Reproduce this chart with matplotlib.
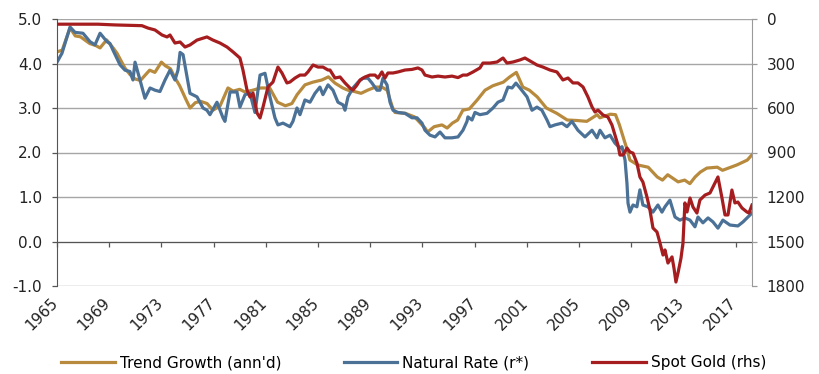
import numpy as np
import matplotlib
matplotlib.use("Agg")
import matplotlib.pyplot as plt
import matplotlib.transforms as mtransforms

# values (decimal years)
trend_years = [1965.00, 1965.40, 1966.00, 1966.40, 1966.80, 1967.50, 1968.00, 1968.30, 1968.80, 1969.30,
               1969.60, 1970.20, 1970.60, 1971.00, 1971.40, 1971.70, 1972.10, 1972.50, 1973.00, 1973.30,
               1973.70, 1974.00, 1974.40, 1974.90, 1975.20, 1975.60, 1976.00, 1976.50, 1976.95, 1977.50,
               1978.10, 1978.50, 1979.00, 1979.40, 1980.00, 1980.60, 1981.30, 1981.90, 1982.50, 1983.00,
               1983.40, 1984.00, 1984.60, 1985.30, 1985.80, 1986.30, 1986.90, 1987.30, 1987.80, 1988.30,
               1988.80, 1989.40, 1989.90, 1990.30, 1990.70, 1990.90, 1991.70, 1992.40, 1993.20, 1993.40,
               1993.90, 1994.50, 1994.90, 1995.30, 1995.70, 1996.10, 1996.60, 1997.20, 1997.80, 1998.40,
               1999.20, 1999.70, 2000.20, 2000.70, 2001.20, 2001.80, 2002.50, 2003.30, 2004.10, 2004.80,
               2005.60, 2006.40, 2006.60, 2007.40, 2007.80, 2008.10, 2008.50, 2008.70, 2008.90, 2009.50,
               2010.30, 2011.00, 2011.40, 2011.80, 2012.60, 2013.10, 2013.50, 2013.90, 2014.30, 2014.80,
               2015.60, 2016.00, 2017.10, 2017.90, 2018.26]
trend_growth = [4.26, 4.30, 4.80, 4.62, 4.60, 4.45, 4.40, 4.35, 4.53, 4.35,
                4.23, 3.90, 3.75, 3.65, 3.62, 3.72, 3.85, 3.80, 4.03, 3.95,
                3.88, 3.70, 3.50, 3.18, 3.00, 3.12, 3.15, 3.10, 2.95, 3.05,
                3.45, 3.38, 3.42, 3.36, 3.40, 3.45, 3.45, 3.13, 3.05, 3.10,
                3.30, 3.52, 3.58, 3.63, 3.70, 3.56, 3.45, 3.40, 3.37, 3.33,
                3.40, 3.47, 3.47, 3.40, 3.02, 2.90, 2.88, 2.80, 2.55, 2.46,
                2.58, 2.62, 2.55, 2.66, 2.73, 2.95, 2.98, 3.18, 3.40, 3.50,
                3.58, 3.70, 3.80, 3.47, 3.40, 3.25, 3.00, 2.88, 2.73, 2.72,
                2.70, 2.85, 2.78, 2.86, 2.85, 2.62, 2.24, 2.06, 1.83, 1.72,
                1.67, 1.45, 1.38, 1.50, 1.34, 1.38, 1.30, 1.45, 1.56, 1.65,
                1.67, 1.60, 1.72, 1.83, 1.95]

rstar_years = [1965.00, 1965.38, 1966.00, 1966.38, 1966.99, 1967.53, 1967.91, 1968.30, 1968.83, 1969.06,
               1969.29, 1969.83, 1970.21, 1970.59, 1970.82, 1970.98, 1971.36, 1971.74, 1972.13, 1972.51,
               1972.89, 1973.28, 1973.66, 1974.04, 1974.27, 1974.43, 1974.66, 1975.19, 1975.73, 1976.19,
               1976.49, 1976.72, 1977.26, 1977.72, 1977.87, 1978.26, 1978.79, 1979.02, 1979.41, 1979.79,
               1980.17, 1980.56, 1980.94, 1981.32, 1981.70, 1981.93, 1982.32, 1982.85, 1983.08, 1983.39,
               1983.62, 1984.00, 1984.39, 1984.77, 1985.15, 1985.38, 1985.77, 1986.15, 1986.53, 1986.92,
               1987.07, 1987.30, 1987.68, 1988.07, 1988.45, 1988.83, 1989.14, 1989.52, 1989.75, 1989.98,
               1990.29, 1990.52, 1990.75, 1991.13, 1991.67, 1992.20, 1992.59, 1992.97, 1993.20, 1993.58,
               1993.97, 1994.35, 1994.73, 1995.27, 1995.73, 1996.11, 1996.42, 1996.49, 1996.80, 1997.03,
               1997.41, 1997.95, 1998.41, 1998.79, 1999.18, 1999.56, 1999.87, 2000.17, 2000.48, 2001.02,
               2001.40, 2001.78, 2002.16, 2002.55, 2002.78, 2003.16, 2003.70, 2004.08, 2004.46, 2004.92,
               2005.46, 2006.00, 2006.38, 2006.61, 2006.99, 2007.38, 2007.76, 2008.14, 2008.30, 2008.53,
               2008.68, 2008.76, 2008.91, 2009.14, 2009.44, 2009.67, 2009.90, 2010.28, 2010.67, 2011.05,
               2011.36, 2011.59, 2011.97, 2012.36, 2012.74, 2013.12, 2013.51, 2013.89, 2014.12, 2014.50,
               2014.89, 2015.27, 2015.65, 2016.03, 2016.57, 2017.18, 2017.57, 2018.26]
natural_rate = [4.03, 4.23, 4.82, 4.70, 4.68, 4.49, 4.42, 4.68, 4.49, 4.45,
                4.30, 3.97, 3.85, 3.82, 3.63, 4.03, 3.63, 3.22, 3.45, 3.40,
                3.37, 3.63, 3.85, 3.63, 3.85, 4.25, 4.20, 3.33, 3.25, 3.00,
                2.95, 2.85, 3.13, 2.78, 2.70, 3.36, 3.36, 3.02, 3.30, 3.33,
                2.90, 3.74, 3.78, 3.25, 2.78, 2.62, 2.66, 2.58, 2.70, 3.00,
                2.85, 3.18, 3.13, 3.33, 3.47, 3.30, 3.52, 3.40, 3.13, 3.07,
                2.95, 3.25, 3.45, 3.58, 3.67, 3.67, 3.56, 3.40, 3.40, 3.67,
                3.52, 3.13, 2.95, 2.90, 2.88, 2.78, 2.78, 2.66, 2.50, 2.39,
                2.35, 2.46, 2.33, 2.33, 2.35, 2.50, 2.70, 2.80, 2.73, 2.90,
                2.85, 2.88, 3.00, 3.13, 3.18, 3.47, 3.45, 3.56, 3.45, 3.25,
                2.95, 3.02, 2.95, 2.73, 2.58, 2.62, 2.66, 2.58, 2.70, 2.50,
                2.35, 2.50, 2.33, 2.50, 2.33, 2.39, 2.21, 2.10, 2.13, 1.83,
                1.30, 0.86, 0.66, 0.82, 0.78, 1.16, 0.82, 0.78, 0.66, 0.82,
                0.66, 0.78, 0.93, 0.55, 0.48, 0.53, 0.48, 0.33, 0.55, 0.42,
                0.53, 0.44, 0.30, 0.48, 0.37, 0.35, 0.44, 0.64]

gold_years = [1965.00, 1968.14, 1969.44, 1971.51, 1971.97, 1972.51, 1973.05, 1973.43, 1973.66, 1974.04,
              1974.43, 1974.81, 1975.19, 1975.73, 1976.49, 1976.95, 1977.49, 1978.03, 1978.49, 1979.02,
              1979.25, 1979.56, 1979.79, 1980.02, 1980.33, 1980.56, 1980.79, 1981.17, 1981.55, 1981.93,
              1982.24, 1982.62, 1982.85, 1983.24, 1983.62, 1984.00, 1984.23, 1984.62, 1985.00, 1985.38,
              1985.77, 1985.92, 1986.30, 1986.69, 1987.07, 1987.45, 1987.68, 1987.99, 1988.22, 1988.60,
              1988.98, 1989.37, 1989.60, 1989.90, 1990.13, 1990.36, 1990.75, 1991.13, 1991.67, 1992.20,
              1992.66, 1992.97, 1993.20, 1993.74, 1994.20, 1994.73, 1995.27, 1995.73, 1996.11, 1996.42,
              1996.88, 1997.41, 1997.64, 1998.18, 1998.72, 1999.18, 1999.48, 1999.94, 2000.48, 2000.86,
              2001.25, 2001.78, 2002.24, 2002.78, 2003.31, 2003.77, 2004.16, 2004.54, 2004.92, 2005.31,
              2005.69, 2006.00, 2006.23, 2006.46, 2006.84, 2007.22, 2007.53, 2007.76, 2007.99, 2008.14,
              2008.37, 2008.68, 2008.91, 2009.14, 2009.44, 2009.67, 2009.90, 2010.21, 2010.44, 2010.67,
              2010.98, 2011.21, 2011.44, 2011.59, 2011.82, 2012.13, 2012.28, 2012.43, 2012.59, 2012.82,
              2012.97, 2013.12, 2013.28, 2013.51, 2013.74, 2014.04, 2014.27, 2014.66, 2015.04, 2015.42,
              2015.65, 2015.96, 2016.19, 2016.42, 2016.72, 2016.95, 2017.18, 2017.49, 2017.87, 2018.03,
              2018.26]
spot_gold = [35, 35, 40, 45, 61, 74, 108, 121, 108, 162,
             155, 189, 175, 142, 121, 142, 162, 189, 222, 263,
             344, 479, 526, 499, 634, 667, 593, 458, 425, 324,
             364, 431, 425, 398, 378, 378, 357, 310, 324, 324,
             344, 344, 398, 391, 431, 465, 479, 445, 411, 391,
             378, 378, 398, 357, 398, 364, 364, 357, 344, 340,
             330, 344, 378, 391, 385, 391, 385, 395, 378, 378,
             357, 330, 297, 297, 290, 263, 297, 290, 276, 263,
             283, 310, 324, 344, 357, 411, 398, 431, 431, 458,
             526, 593, 627, 614, 647, 661, 715, 782, 850, 917,
             917, 870, 897, 904, 971, 1065, 1099, 1200, 1288, 1409,
             1436, 1510, 1591, 1557, 1645, 1604, 1679, 1773, 1712, 1611,
             1510, 1240, 1301, 1207, 1268, 1308, 1220, 1187, 1173, 1106,
             1065, 1207, 1321, 1321, 1153, 1240, 1234, 1274, 1301, 1308,
             1254]

x_ticks = list(range(1965, 2018, 4))
left_ticks = [-1.0, 0.0, 1.0, 2.0, 3.0, 4.0, 5.0]
right_ticks = [0, 300, 600, 900, 1200, 1500, 1800]

TAN = "#B78A3E"
BLUE = "#4B7197"
RED = "#A61D1F"

plt.rcParams['font.family'] = ['DejaVu Sans']
fs = 11
fs_leg = 11

fig = plt.figure(figsize=(8.19, 3.74), dpi=100)
ax = fig.add_axes([57/819, 1 - 286/374, (752-57)/819, (286-19)/374])
ax2 = ax.twinx()

l1, = ax.plot(trend_years, trend_growth, color=TAN, lw=2.3, solid_joinstyle='round', label="Trend Growth (ann'd)")
l2, = ax.plot(rstar_years, natural_rate, color=BLUE, lw=2.3, solid_joinstyle='round', label="Natural Rate (r*)")
l3, = ax2.plot(gold_years, spot_gold, color=RED, lw=2.3, solid_joinstyle='round', label="Spot Gold (rhs)")

ax.set_xlim(1965, 2018.26)
ax.set_ylim(-1, 5)
ax2.set_ylim(1800, 0)

ax.set_yticks(left_ticks)
ax.set_yticklabels(["%.1f" % v for v in left_ticks], fontsize=fs, color="#222222")
ax2.set_yticks(right_ticks)
ax2.set_yticklabels([str(v) for v in right_ticks], fontsize=fs, color="#222222")
ax.grid(axis='y', color="#A6A6A6", lw=1.0)
ax.set_axisbelow(True)

# x axis crosses at 0, labels at the bottom
ax.spines['bottom'].set_position(('data', 0))
ax.spines['bottom'].set_color("#555555")
ax.spines['left'].set_color("#555555")
ax.spines['top'].set_visible(False)
ax.spines['right'].set_visible(False)
for s in ['left', 'top', 'bottom']:
    ax2.spines[s].set_visible(False)
ax2.spines['right'].set_color("#9A9A9A")

ax.set_xticks(x_ticks)
ax.set_xticklabels([str(y) for y in x_ticks], rotation=45, ha='right', fontsize=fs, color="#222222")
ax.tick_params(axis='x', length=3.6, width=0.9, color="#555555", pad=35)
ax.tick_params(axis='y', length=3.6, width=0.9, color="#555555", pad=7)
ax2.tick_params(axis='y', length=3.6, width=0.9, color="#9A9A9A", pad=7)
offset = mtransforms.ScaledTranslation(4/100, 0, fig.dpi_scale_trans)
for lab in ax.get_xticklabels():
    lab.set_transform(lab.get_transform() + offset)

fig.legend(handles=[l1, l2, l3], loc='center', bbox_to_anchor=(0.505, 1 - 363/374),
           ncol=3, frameon=False, fontsize=fs_leg, handlelength=3.5, handletextpad=0.33,
           columnspacing=4.1)

plt.savefig("out.png", dpi=100)
